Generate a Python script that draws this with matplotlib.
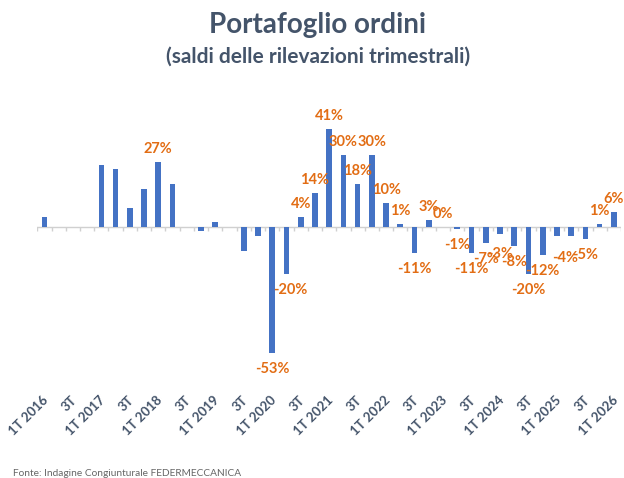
import matplotlib
matplotlib.use("Agg")
import matplotlib.pyplot as plt
import matplotlib.transforms as mtransforms
import numpy as np

# ---- data ----
quarters = []
for yr in range(2016, 2027):
    for q in ["1T", "2T", "3T", "4T"]:
        quarters.append(f"{q} {yr}")
quarters = quarters[:41]  # 1T 2016 ... 1T 2026

values = [4, 0, 0, 0, 26, 24, 8, 16, 27, 18, 0, -2, 2, 0, -10, -4,
          -53, -20, 4, 14, 41, 30, 18, 30, 10, 1, -11, 3, 0, -1, -11, -7,
          -3, -8, -20, -12, -4, -4, -5, 1, 6]

labels = [None, None, None, None, None, None, None, None, "27%", None,
          None, None, None, None, None, None, "-53%", "-20%", "4%", "14%",
          "41%", "30%", "18%", "30%", "10%", "1%", "-11%", "3%", "0%",
          "-1%", "-11%", "-7%", "-3%", "-8%", "-20%", "-12%", "-4%", None,
          "-5%", "1%", "6%"]

tick_text = [("1T " + q.split()[1]) if q.startswith("1T") else ("3T" if q.startswith("3T") else "")
             for q in quarters]

# ---- style ----
BLUE = "#4472C4"
ORANGE = "#E26D14"
SLATE = "#44546A"
FONT = ["Lato", "DejaVu Sans"]
plt.rcParams["font.family"] = FONT

W, H = 624, 478
fig = plt.figure(figsize=(W / 100, H / 100), dpi=100)

# axes placement (pixel-based)
x_left_px, x_right_px = 37.3, 621.0
y_top_px, y_bot_px = 107.45, 381.7
ax = fig.add_axes([x_left_px / W, 1 - y_bot_px / H,
                   (x_right_px - x_left_px) / W, (y_bot_px - y_top_px) / H])
ax.set_xlim(-0.5, len(values) - 0.5)
ax.set_ylim(-65, 50)

x = np.arange(len(values))
ax.bar(x, values, width=0.4, color=BLUE, zorder=3)

for s in ax.spines.values():
    s.set_visible(False)
ax.set_yticks([])
ax.set_xticks([])

# zero line with boundary tick marks
ax.axhline(0, color="#D0D0D0", lw=1.0, zorder=2)
bounds = np.arange(-0.5, len(values) + 0.5, 1.0)
ax.vlines(bounds, -2.0, 0, color="#D0D0D0", lw=1.0, zorder=2)

# data labels
nudges = {17: (4, 0), 32: (0, -4), 36: (8, -6)}
for i, (v, lab) in enumerate(zip(values, labels)):
    if lab is None:
        continue
    dx, dy = nudges.get(i, (0, 0))
    off = 13 if v >= 0 else -16
    ax.annotate(lab, (i, v), xytext=(dx, off + dy), textcoords="offset pixels",
                ha="center", va="center", fontsize=10.5, fontweight="bold",
                color=ORANGE, zorder=4, annotation_clip=False)

# category tick labels below plot area
trans = mtransforms.blended_transform_factory(ax.transData, fig.transFigure)
for i, t in enumerate(tick_text):
    if not t:
        continue
    ax.text(i + 0.15, 1 - 398 / H, t, transform=trans, rotation=45,
            rotation_mode="anchor", ha="right", va="center",
            fontsize=9.5, fontweight="bold", color=SLATE)

# titles
fig.text(0.509, 1 - 25 / H, "Portafoglio ordini", ha="center", va="center",
         fontsize=20, fontweight="bold", color=SLATE)
fig.text(0.509, 1 - 57 / H, "(saldi delle rilevazioni trimestrali)", ha="center",
         va="center", fontsize=15, fontweight="bold", color=SLATE)

fig.text(13 / W, 1 - 469 / H, "Fonte: Indagine Congiunturale FEDERMECCANICA",
         ha="left", va="top", fontsize=7.3, color="#666666")

fig.savefig("out.png", dpi=100)
